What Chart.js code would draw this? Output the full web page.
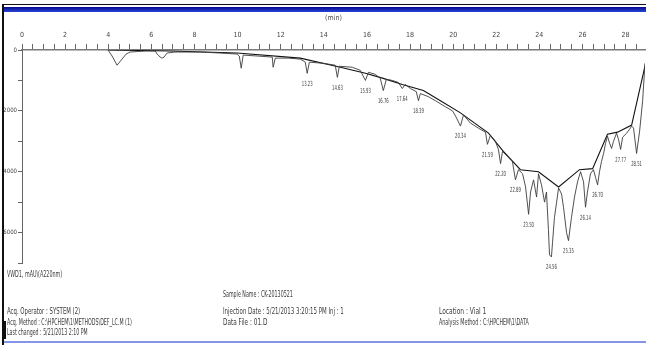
<!DOCTYPE html>
<html>
<head>
<meta charset="utf-8">
<script src="https://cdn.jsdelivr.net/npm/chart.js@4.4.1/dist/chart.umd.min.js"></script>
<style>
  html, body { margin: 0; padding: 0; background: #fff; }
  #wrap { position: relative; width: 646px; height: 345px; overflow: hidden; background: #fff; }
  #chart { position: absolute; left: 0; top: 0; }
  .frame { position: absolute; }
  .info {
    position: absolute; font: 8px "Liberation Sans Narrow", "DejaVu Sans Condensed", sans-serif;
    color: #3a3a3a; white-space: nowrap; line-height: 8px; transform-origin: 0 0;
  }
</style>
</head>
<body>
<div id="wrap">
  <canvas id="chart" width="646" height="345"></canvas>
  <div class="frame" style="left:4px;top:4px;width:642px;height:1px;background:#111;"></div>
  <div class="frame" style="left:4px;top:7px;width:642px;height:5px;background:linear-gradient(#0a0a8c,#2446d8);"></div>
  <div class="frame" style="left:2px;top:4px;width:2px;height:341px;background:#111;"></div>
  <div class="frame" style="left:4px;top:341px;width:642px;height:2px;background:#8494e6;"></div>
  <div class="frame" style="left:4px;top:321px;width:2px;height:18px;background:#111;"></div>
</div>
<script>
// Chromatogram trace (retention time in min, signal in mAU, axis points downward)
const signalTime = [
  3.99, 4.18, 4.41, 4.60, 4.83, 5.01, 5.71, 6.18, 6.27, 6.41,
  6.50, 6.59, 6.73, 7.10, 8.27, 9.19, 9.98, 10.08, 10.17, 10.26,
  10.96, 11.61, 11.65, 11.75, 12.35, 12.91, 13.14, 13.23, 13.33, 13.93,
  14.53, 14.63, 14.72, 15.32, 15.69, 15.93, 16.07, 16.39, 16.62, 16.76,
  16.90, 17.18, 17.46, 17.64, 17.78, 18.02, 18.29, 18.39, 18.48, 18.85,
  19.18, 19.64, 19.97, 20.11, 20.34, 20.48, 20.80, 21.17, 21.50, 21.59,
  21.73, 21.96, 22.10, 22.20, 22.29, 22.52, 22.75, 22.89, 23.03, 23.22,
  23.36, 23.50, 23.59, 23.73, 23.87, 23.96, 24.10, 24.24, 24.33, 24.42,
  24.47, 24.56, 24.61, 24.70, 24.80, 24.89, 25.03, 25.12, 25.26, 25.35,
  25.49, 25.63, 25.77, 25.91, 26.05, 26.14, 26.23, 26.37, 26.51, 26.61,
  26.70, 26.79, 26.88, 26.98, 27.07, 27.16, 27.26, 27.35, 27.44, 27.58,
  27.67, 27.77, 27.86, 28.05, 28.19, 28.28, 28.37, 28.51, 28.65, 28.79,
  28.90
];
const signalMau = [
  0, 200, 500, 333, 133, 67, 33, 33, 133, 233,
  267, 233, 100, 67, 67, 100, 133, 200, 600, 167,
  200, 233, 567, 267, 267, 300, 400, 767, 400, 433,
  500, 900, 533, 567, 667, 1000, 733, 800, 933, 1333,
  967, 1000, 1067, 1267, 1133, 1267, 1367, 1667, 1433, 1533,
  1667, 1867, 2000, 2167, 2500, 2133, 2400, 2567, 2700, 3100,
  2800, 3000, 3267, 3733, 3333, 3500, 3667, 4267, 3933, 4067,
  4500, 5400, 4667, 4267, 4833, 4067, 4433, 5000, 4667, 5900,
  6733, 6800, 6333, 5500, 5000, 4533, 4733, 5167, 6000, 6267,
  5500, 4833, 4333, 4000, 4333, 5167, 4667, 4067, 3933, 4200,
  4433, 4000, 3667, 3400, 3067, 2833, 3067, 3233, 3000, 2733,
  2933, 3267, 2867, 2733, 2600, 2500, 2567, 3400, 2667, 1667,
  433
];

// Integration baseline
const baseTime = [3.99, 6.87, 9.98, 12.91, 14.77, 15.93, 16.76, 17.64, 18.62, 19.41, 20.34, 21.64, 22.33, 23.12, 23.96, 24.89, 25.86, 26.47, 27.16, 27.63, 28.28, 28.93];
const baseMau = [0, 33, 100, 267, 567, 767, 933, 1133, 1333, 1667, 2067, 2733, 3333, 3933, 4000, 4500, 3933, 3900, 2767, 2700, 2467, 433];

// Labelled peaks (retention times)
const peakTimes = [13.23, 14.63, 15.93, 16.76, 17.64, 18.39, 20.34, 21.59, 22.20, 22.89, 23.50, 24.56, 25.35, 26.14, 26.70, 27.77, 28.51];

// Axis ticks
const xMin = 0, xMax = 28.9, xStep = 0.5, xLabelEvery = 2;
const yMin = 0, yMax = 7000, yStep = 1000, yLabelEvery = 2000;
const xTitle = '(min)';

// Report footer lines
const infoLines = [
  { text: 'VWD1,  mAU\\(A220nm)', x: 7, y: 271, w: 55 },
  { text: 'Sample Name : CK-20130521', x: 223, y: 291, w: 70 },
  { text: 'Acq. Operator : SYSTEM (2)', x: 7, y: 308, w: 73 },
  { text: 'Injection Date : 5/21/2013 3:20:15 PM   Inj : 1', x: 223, y: 308, w: 121 },
  { text: 'Acq. Method : C:\\HPCHEM\\1\\METHODS\\DEF_LC.M (1)', x: 7, y: 319, w: 125 },
  { text: 'Data File : 01.D', x: 223, y: 319, w: 44 },
  { text: 'Last changed : 5/21/2013 2:10 PM', x: 7, y: 329, w: 81 },
  { text: 'Location : Vial 1', x: 439, y: 308, w: 47 },
  { text: 'Analysis Method : C:\\HPCHEM\\1\\DATA', x: 439, y: 319, w: 90 }
];

const fontFamily = '"Liberation Sans Narrow", "DejaVu Sans Condensed", sans-serif';
const smallFont = { family: fontFamily, size: 7 };

function nearestIndex(t) {
  let best = 0;
  signalTime.forEach((s, i) => {
    if (Math.abs(s - t) < Math.abs(signalTime[best] - t)) best = i;
  });
  return best;
}

const peakLabels = {
  id: 'peakLabels',
  afterDatasetsDraw(chart) {
    const { ctx, scales: { x, y } } = chart;
    ctx.save();
    ctx.fillStyle = '#3a3a3a';
    ctx.font = '7px ' + fontFamily;
    ctx.textAlign = 'center';
    ctx.textBaseline = 'top';
    peakTimes.forEach(t => {
      const i = nearestIndex(t);
      const px = x.getPixelForValue(signalTime[i]);
      const py = y.getPixelForValue(signalMau[i]);
      ctx.save();
      ctx.translate(px, py + 7);
      ctx.scale(0.6, 1);
      ctx.fillText(t.toFixed(2), 0, 0);
      ctx.restore();
    });
    ctx.restore();
  }
};

new Chart(document.getElementById('chart'), {
  type: 'scatter',
  data: {
    datasets: [
      {
        label: 'signal',
        data: signalTime.map((t, i) => ({ x: t, y: signalMau[i] })),
        showLine: true,
        borderColor: '#3c3c3c',
        borderWidth: 0.9,
        pointRadius: 0,
        tension: 0
      },
      {
        label: 'baseline',
        data: baseTime.map((t, i) => ({ x: t, y: baseMau[i] })),
        showLine: true,
        borderColor: '#111',
        borderWidth: 1.1,
        pointRadius: 0,
        tension: 0
      }
    ]
  },
  options: {
    responsive: false,
    animation: false,
    layout: { padding: { left: 0, right: 1, top: 0, bottom: 82 } },
    plugins: { legend: { display: false }, tooltip: { enabled: false } },
    scales: {
      x: {
        type: 'linear',
        position: 'top',
        min: xMin,
        max: xMax,
        afterFit: s => { s.height = 50; },
        title: { display: true, text: xTitle, color: '#444', font: smallFont, padding: { top: 14, bottom: 0 } },
        ticks: {
          stepSize: xStep,
          autoSkip: false,
          includeBounds: false,
          maxRotation: 0,
          padding: 5,
          color: '#444',
          font: smallFont,
          callback: v => (v % xLabelEvery === 0 ? String(v) : '')
        },
        grid: { drawOnChartArea: false, drawTicks: true, tickLength: 6, color: '#666' },
        border: { display: true, color: '#7a7a7a', width: 1.5 }
      },
      y: {
        type: 'linear',
        reverse: true,
        min: yMin,
        max: yMax,
        afterFit: s => { s.width = 22; },
        ticks: {
          stepSize: yStep,
          autoSkip: false,
          padding: 1,
          color: '#444',
          font: { family: fontFamily, size: 6 },
          callback: v => {
            const r = Math.round(v);
            return r % yLabelEvery === 0 ? String(r) : '';
          }
        },
        grid: { drawOnChartArea: false, drawTicks: true, tickLength: 4, color: '#666' },
        border: { display: true, color: '#666', width: 1 }
      }
    }
  },
  plugins: [peakLabels]
});

// footer text, squeezed to the width it takes in the report
const wrap = document.getElementById('wrap');
infoLines.forEach(l => {
  const el = document.createElement('div');
  el.className = 'info';
  el.textContent = l.text;
  el.style.left = l.x + 'px';
  el.style.top = l.y + 'px';
  wrap.appendChild(el);
  el.style.transform = 'scaleX(' + (l.w / el.scrollWidth).toFixed(3) + ')';
});
</script>
</body>
</html>
